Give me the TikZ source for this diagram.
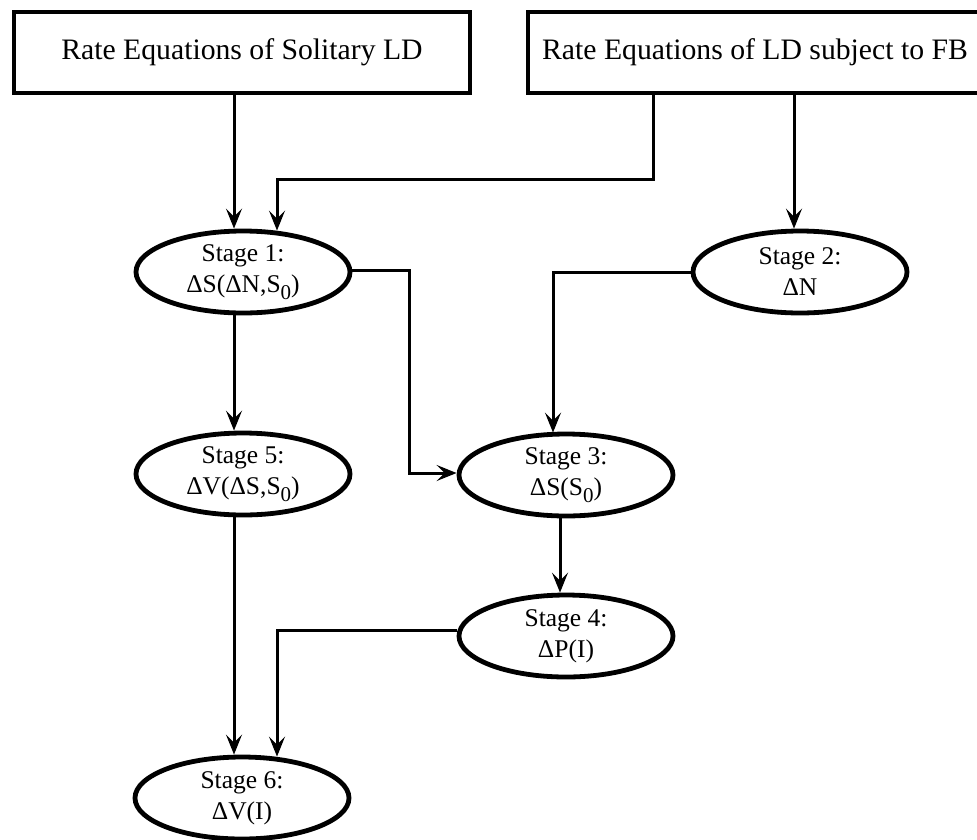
\documentclass[tikz,border=0pt]{standalone}
\usepackage{fontspec}
\setmainfont{Liberation Serif}
\usetikzlibrary{arrows.meta,shapes.geometric}
\newcommand{\subzero}{\raisebox{-0.3em}{\fontsize{21}{21}\selectfont 0}}
\begin{document}
\begin{tikzpicture}[x=1pt,y=-1pt,
  rbox/.style={draw, line width=4.8pt, minimum height=81pt, inner sep=0pt,
    font=\fontsize{29.7}{36}\selectfont},
  stagebox/.style={draw, ellipse, line width=4.8pt, minimum width=214pt,
    minimum height=82pt, inner sep=0pt, align=center,
    font=\fontsize{25.5}{31}\selectfont},
  conn/.style={line width=3pt},
  arr/.style={conn, -{Stealth[length=20pt,width=16pt,inset=8pt]}}]
\useasboundingbox (0,0) rectangle (977,839);
\clip (0,0) rectangle (977,839);
% boxes
\node[rbox, minimum width=456pt] (b1) at (242,52.5) {Rate Equations of Solitary LD};
\node[rbox, minimum width=454pt] (b2) at (755,52.5) {Rate Equations of LD subject to FB};
% stages
\node[stagebox] (s1) at (243,272) {Stage 1:\\ΔS(ΔN,S\subzero)};
\node[stagebox] (s2) at (800,272) {Stage 2:\\ΔN};
\node[stagebox] (s3) at (566,475) {Stage 3:\\ΔS(S\subzero)};
\node[stagebox] (s4) at (566,636) {Stage 4:\\ΔP(I)};
\node[stagebox] (s5) at (243,474) {Stage 5:\\ΔV(ΔS,S\subzero)};
\node[stagebox] (s6) at (242,798) {Stage 6:\\ΔV(I)};
% routing columns / rows
\coordinate (xa) at (234,0);
\coordinate (xb) at (277,0);
\coordinate (xc) at (653,0);
\coordinate (xd) at (794,0);
\coordinate (xe) at (409,0);
\coordinate (xf) at (553,0);
\coordinate (xg) at (560,0);
\coordinate (ya) at (0,179);
% connectors
\draw[arr] (xa |- b1.south) -- (xa |- s1.north);
\draw[arr] (xc |- b2.south) -- (xc |- ya) -- (xb |- ya) -- ([yshift=-2pt]xb |- s1.north);
\draw[arr] (xd |- b2.south) -- (xd |- s2.north);
\draw[arr] ([yshift=2pt]s1.east) -- ([yshift=2pt]xe |- s1.east) -- ([yshift=2pt]xe |- s3.west) -- ([yshift=2pt]s3.west);
\draw[arr] (s2.west) -- (xf |- s2.west) -- ([yshift=-1pt]xf |- s3.north);
\draw[arr] (xa |- s1.south) -- (xa |- s5.north);
\draw[arr] (xg |- s3.south) -- (xg |- s4.north);
\draw[arr] (xa |- s5.south) -- (xa |- s6.north);
\draw[arr] ([yshift=6pt]s4.west) -- ([yshift=6pt]xb |- s4.west) -- ([yshift=-2pt]xb |- s6.north);
\end{tikzpicture}
\end{document}
